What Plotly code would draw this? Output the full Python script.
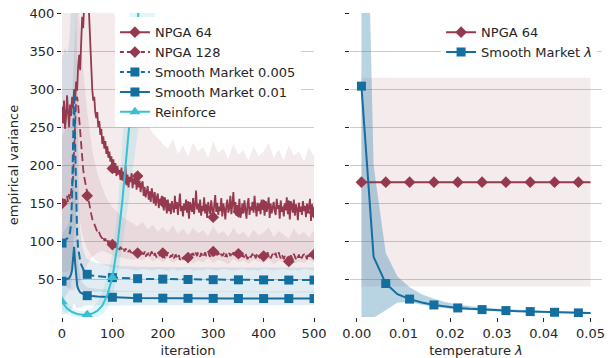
import plotly.graph_objects as go

MAROON = "#953a4e"
BLUE = "#146ea0"
CYAN = "#38c0d2"

# ---------------- left panel data ----------------
iters = list(range(0, 501, 2))
npga64 = [
    270, 255, 285, 248, 262, 292, 270, 250, 280, 265,
    290, 275, 300, 285, 310, 298, 330, 345, 325, 370,
    395, 380, 420, 440, 430, 415, 425, 390, 355, 320,
    300, 285, 290, 270, 262, 270, 250, 258, 240, 248,
    228, 238, 222, 232, 215, 225, 210, 218, 205, 212,
    196, 208, 190, 203, 186, 199, 188, 194, 181, 197,
    180, 192, 176, 199, 174, 188, 171, 185, 178, 190,
    170, 183, 175, 186, 168, 186, 171, 180, 165, 176,
    179, 160, 172, 158, 168, 173, 155, 166, 152, 170,
    162, 150, 165, 147, 158, 163, 144, 156, 149, 160,
    152, 141, 158, 145, 137, 155, 140, 150, 136, 153,
    146, 138, 160, 143, 152, 135, 149, 163, 140, 147,
    133, 150, 141, 155, 138, 146, 130, 152, 144, 139,
    157, 136, 148, 167, 142, 150, 138, 155, 134, 147,
    140, 158, 137, 149, 131, 152, 143, 136, 154, 141,
    132, 148, 161, 139, 151, 135, 146, 140, 157, 133,
    150, 143, 129, 147, 155, 138, 144, 160, 136, 149,
    165, 140, 152, 134, 148, 139, 156, 131, 145, 150,
    137, 154, 142, 130, 149, 157, 135, 146, 141, 152,
    138, 160, 144, 133, 151, 140, 147, 136, 155, 142,
    148, 134, 153, 139, 145, 158, 131, 150, 137, 144,
    152, 140, 135, 156, 143, 148, 130, 154, 139, 146,
    133, 150, 141, 158, 136, 147, 129, 153, 142, 138,
    155, 134, 149, 143, 128, 151, 139, 146, 135, 153,
    140, 147, 132, 150, 137, 144, 156, 127, 149, 141,
    138,
]
npga128 = [
    150, 156, 146, 158, 149, 160, 152, 162, 155, 166,
    170, 185, 220, 260, 285, 290, 280, 262, 245, 225,
    205, 195, 185, 178, 170, 160, 152, 145, 140, 136,
    130, 127, 122, 120, 117, 113, 115, 110, 108, 106,
    104, 107, 101, 104, 99, 102, 97, 101, 96, 99,
    96, 94, 98, 92, 95, 91, 94, 89, 93, 90,
    89, 92, 87, 91, 88, 90, 86, 89, 87, 85,
    88, 84, 87, 83, 86, 85, 82, 87, 84, 81,
    85, 83, 87, 80, 84, 82, 86, 81, 84, 87,
    83, 80, 85, 82, 79, 84, 86, 81, 83, 80,
    85, 82, 78, 84, 81, 86, 83, 79, 82, 80,
    84, 78, 81, 83, 77, 80, 82, 76, 79, 81,
    77, 80, 75, 78, 81, 79, 83, 80, 84, 82,
    85, 82, 87, 84, 81, 86, 83, 80, 85, 82,
    79, 83, 86, 81, 84, 87, 82, 80, 85, 83,
    87, 84, 81, 85, 82, 86, 83, 80, 84, 81,
    83, 86, 80, 84, 79, 82, 85, 81, 84, 80,
    86, 82, 85, 80, 83, 84, 81, 78, 83, 80,
    82, 79, 84, 81, 77, 80, 83, 79, 81, 84,
    80, 83, 78, 82, 85, 80, 79, 83, 77, 81,
    81, 84, 79, 82, 86, 80, 83, 78, 81, 84,
    80, 83, 85, 79, 82, 86, 81, 78, 83, 80,
    77, 81, 79, 76, 80, 74, 78, 82, 79, 76,
    84, 80, 77, 82, 79, 83, 76, 80, 78, 82,
    83, 79, 81, 77, 85, 80, 84, 78, 82, 80,
    83,
]

band_iters = list(range(0, 501, 10))
npga64_hi = [
    520, 560, 590, 640, 700, 720, 640, 560, 500, 450,
    410, 380, 350, 320, 300, 285, 268, 255, 242, 236,
    228, 222, 235, 215, 226, 212, 230, 218, 224, 210,
    232, 216, 222, 208, 228, 214, 220, 206, 225, 212,
    218, 230, 210, 221, 207, 226, 213, 219, 205, 224,
    211,
]
npga64_lo = [
    45, 40, 35, 40, 55, 70, 80, 85, 88, 85,
    82, 80, 78, 77, 76, 78, 75, 80, 74, 77,
    73, 78, 72, 76, 74, 79, 71, 75, 73, 78,
    72, 76, 74, 70, 77, 73, 75, 71, 76, 74,
    72, 77, 70, 75, 73, 78, 71, 74, 72, 76,
    73,
]
npga128_hi = [
    240, 250, 290, 430, 340, 270, 220, 190, 170, 155,
    145, 138, 132, 128, 124, 120, 126, 116, 122, 113,
    119, 112, 121, 110, 117, 108, 118, 111, 115, 107,
    120, 110, 114, 106, 118, 109, 113, 105, 116, 108,
    112, 119, 106, 114, 109, 104, 117, 108, 113, 105,
    115,
]
npga128_lo = [
    60, 60, 65, 150, 110, 90, 80, 74, 70, 68,
    66, 65, 64, 64, 63, 62, 64, 63, 62, 64,
    63, 62, 64, 62, 63, 64, 62, 63, 62, 64,
    63, 62, 64, 63, 62, 63, 64, 62, 63, 62,
    64, 63, 62, 63, 64, 62, 63, 62, 64, 63,
    62,
]

sm_iters = list(range(0, 50, 2)) + list(range(50, 501, 10))
sm005 = [
    98, 99, 100, 101, 102, 103, 105, 108, 112, 125,
    160, 230, 295, 230, 150, 110, 92, 82, 75, 70,
    66, 63, 61, 59.5, 58,
    57, 55.5, 54.5, 53.8, 53.2, 52.7, 52.3, 52.0, 51.7, 51.5,
    51.3, 51.1, 51.0, 50.9, 50.8, 50.7, 50.6, 50.5, 50.4, 50.3,
    50.2, 50.2, 50.1, 50.1, 50.0, 50.0, 49.9, 49.9, 49.9, 49.8,
    49.8, 49.8, 49.7, 49.7, 49.7, 49.7, 49.6, 49.6, 49.6, 49.6,
    49.5, 49.5, 49.5, 49.5, 49.5, 49.5,
]
sm005_hi = [
    340, 345, 350, 355, 350, 345, 350, 360, 380, 400,
    430, 470, 520, 480, 420, 330, 200, 140, 115, 102,
    94, 89, 85, 82, 79,
    77, 74, 72, 71, 70, 69, 68.5, 68, 67.5, 67,
    67, 67, 66.8, 66.8, 66.6, 66.6, 66.5, 66.5, 66.4, 66.4,
    66.3, 66.3, 66.2, 66.2, 66.1, 66.1, 66, 66, 66, 66,
    66, 66, 66, 66, 66, 66, 66, 66, 66, 66,
    66, 66, 66, 66, 66, 66,
]
sm005_lo = [
    20, 22, 25, 28, 30, 32, 34, 36, 38, 40,
    50, 80, 120, 90, 60, 45, 40, 38, 37, 36.5,
    36, 35.5, 35, 35, 34.5,
    34.5, 34.3, 34.1, 34, 34, 33.9, 33.8, 33.8, 33.7, 33.7,
    33.6, 33.6, 33.6, 33.6, 33.5, 33.5, 33.5, 33.5, 33.5, 33.5,
    33.4, 33.4, 33.4, 33.4, 33.4, 33.4, 33.4, 33.4, 33.4, 33.4,
    33.3, 33.3, 33.3, 33.3, 33.3, 33.3, 33.3, 33.3, 33.3, 33.3,
    33.3, 33.3, 33.3, 33.3, 33.3, 33.3,
]
sm01 = [
    48, 48.5, 49, 49.5, 50, 50.5, 51, 52, 54, 57,
    63, 76, 93, 72, 52, 43, 38, 35, 33.5, 32.5,
    31.5, 30.8, 30.2, 29.7, 29.3,
    29.0, 28.4, 27.9, 27.5, 27.2, 26.9, 26.7, 26.5, 26.3, 26.1,
    26.0, 25.9, 25.8, 25.8, 25.7, 25.7, 25.6, 25.6, 25.6, 25.5,
    25.5, 25.5, 25.5, 25.4, 25.4, 25.4, 25.4, 25.4, 25.3, 25.3,
    25.3, 25.3, 25.3, 25.3, 25.3, 25.2, 25.2, 25.2, 25.2, 25.2,
    25.2, 25.2, 25.2, 25.2, 25.2, 25.2,
]
sm01_hi = [
    110, 112, 114, 116, 118, 120, 122, 126, 132, 140,
    160, 190, 230, 180, 125, 92, 74, 62, 55, 50,
    47, 45, 43.5, 42, 41,
    40, 38.8, 37.8, 37, 36.4, 35.9, 35.5, 35.2, 35, 34.8,
    34.7, 34.6, 34.6, 34.5, 34.5, 34.5, 34.4, 34.4, 34.4, 34.4,
    34.3, 34.3, 34.3, 34.3, 34.3, 34.3, 34.3, 34.3, 34.3, 34.3,
    34.2, 34.2, 34.2, 34.2, 34.2, 34.2, 34.2, 34.2, 34.2, 34.2,
    34.2, 34.2, 34.2, 34.2, 34.2, 34.2,
]
sm01_lo = [
    5, 5, 5, 5, 6, 6, 7, 8, 9, 10,
    12, 15, 20, 16, 13, 12, 12.5, 13, 13.5, 14,
    14.5, 15, 15.3, 15.6, 16,
    16.2, 16.4, 16.5, 16.6, 16.7, 16.8, 16.8, 16.8, 16.8, 16.8,
    16.8, 16.8, 16.8, 16.8, 16.8, 16.8, 16.8, 16.8, 16.8, 16.8,
    16.8, 16.8, 16.8, 16.8, 16.8, 16.8, 16.8, 16.8, 16.8, 16.8,
    16.8, 16.8, 16.8, 16.8, 16.8, 16.8, 16.8, 16.8, 16.8, 16.8,
    16.8, 16.8, 16.8, 16.8, 16.8, 16.8,
]

rf_iters = list(range(0, 201, 10))
reinforce = [21, 12, 7.5, 5, 4, 4, 5.5, 9, 16, 30, 53, 95, 155, 225, 300, 385, 480, 580, 690, 800, 920]
reinforce_hi = [32, 20, 13, 10, 9, 10, 13, 20, 34, 55, 85, 140, 230, 330, 470, 620, 760, 880, 980, 1080, 1180]
reinforce_lo = [11, 5, 2, 0.5, 0, 0, 0, 1, 4, 12, 28, 55, 95, 140, 190, 240, 290, 340, 380, 420, 460]

# ---------------- right panel data ----------------
lam = [0.001, 0.0036, 0.0062, 0.0087, 0.0113, 0.0139, 0.0165, 0.0191, 0.0216, 0.0242,
       0.0268, 0.0294, 0.0319, 0.0345, 0.0371, 0.0397, 0.0423, 0.0448, 0.0474, 0.05]
lam_npga = [178, 178, 178, 178, 178, 178, 178, 178, 178, 178,
            178, 178, 178, 178, 178, 178, 178, 178, 178, 178]
lam_npga_hi = [315, 315, 315, 315, 315, 315, 315, 315, 315, 315,
               315, 315, 315, 315, 315, 315, 315, 315, 315, 315]
lam_npga_lo = [41, 41, 41, 41, 41, 41, 41, 41, 41, 41,
               41, 41, 41, 41, 41, 41, 41, 41, 41, 41]
lam_sm = [304, 80, 45, 31, 24.5, 20, 16.8, 14.5, 12.9, 11.7,
          10.7, 10, 9.4, 8.7, 8.1, 7.6, 7.2, 6.8, 6.4, 6.1]
lam_sm_hi = [900, 200, 85, 54, 40, 31, 25, 20.5, 17.5, 15.3,
             13.5, 12.2, 11.2, 10.3, 9.5, 8.9, 8.4, 7.9, 7.4, 7.1]
lam_sm_lo = [-300, 0, 10, 20, 20.5, 17, 14.5, 12.5, 11, 10,
             9.2, 8.6, 8, 7.5, 7, 6.5, 6.1, 5.8, 5.4, 5.1]

x_ticks_left = [0, 100, 200, 300, 400, 500]
x_ticks_right = [0, 0.01, 0.02, 0.03, 0.04, 0.05]
x_ticktext_right = ["0.00", "0.01", "0.02", "0.03", "0.04", "0.05"]
y_ticks = [50, 100, 150, 200, 250, 300, 350, 400]


def rgba(hex_color, a):
    h = hex_color.lstrip("#")
    r, g, b = int(h[0:2], 16), int(h[2:4], 16), int(h[4:6], 16)
    return f"rgba({r},{g},{b},{a})"


fig = go.Figure()


def band(x, hi, lo, color, alpha, xa, ya):
    fig.add_trace(go.Scatter(
        x=list(x) + list(x)[::-1], y=list(hi) + list(lo)[::-1],
        fill="toself", fillcolor=rgba(color, alpha), line=dict(width=0),
        mode="lines", hoverinfo="skip", showlegend=False, xaxis=xa, yaxis=ya))


def line(x, y, color, dash, xa, ya, width=2):
    fig.add_trace(go.Scatter(
        x=x, y=y, mode="lines", line=dict(color=color, width=width, dash=dash),
        showlegend=False, xaxis=xa, yaxis=ya))


def marks(x, y, color, symbol, size, xa, ya):
    fig.add_trace(go.Scatter(
        x=x, y=y, mode="markers", marker=dict(color=color, symbol=symbol, size=size, line=dict(width=0)),
        showlegend=False, xaxis=xa, yaxis=ya))


DASH = "8px,4px"

# bands (left)
band(band_iters, npga64_hi, npga64_lo, MAROON, 0.10, "x", "y")
band(band_iters, npga128_hi, npga128_lo, MAROON, 0.10, "x", "y")
band(sm_iters, sm005_hi, sm005_lo, BLUE, 0.12, "x", "y")
band(sm_iters, sm01_hi, sm01_lo, BLUE, 0.12, "x", "y")
band(rf_iters, reinforce_hi, reinforce_lo, CYAN, 0.15, "x", "y")
# bands (right)
band(lam, lam_npga_hi, lam_npga_lo, MAROON, 0.10, "x2", "y2")
band(lam, lam_sm_hi, lam_sm_lo, BLUE, 0.30, "x2", "y2")

# lines left
line(iters, npga64, MAROON, "solid", "x", "y", width=1.8)
marks(iters[::25], npga64[::25], MAROON, "diamond", 9, "x", "y")
line(iters, npga128, MAROON, DASH, "x", "y", width=1.8)
marks(iters[::25], npga128[::25], MAROON, "diamond", 9, "x", "y")

sm_mark_x = [x for x in sm_iters if x % 50 == 0]
line(sm_iters, sm005, BLUE, DASH, "x", "y")
marks(sm_mark_x, [v for x, v in zip(sm_iters, sm005) if x % 50 == 0], BLUE, "square", 9, "x", "y")
line(sm_iters, sm01, BLUE, "solid", "x", "y")
marks(sm_mark_x, [v for x, v in zip(sm_iters, sm01) if x % 50 == 0], BLUE, "square", 9, "x", "y")

line(rf_iters, reinforce, CYAN, "solid", "x", "y")
marks([x for x in rf_iters if x % 50 == 0], [v for x, v in zip(rf_iters, reinforce) if x % 50 == 0],
      CYAN, "triangle-up", 10, "x", "y")

# lines right
line(lam, lam_npga, MAROON, "solid", "x2", "y2")
marks(lam[::2], lam_npga[::2], MAROON, "diamond", 9, "x2", "y2")
line(lam, lam_sm, BLUE, "solid", "x2", "y2")
marks(lam[::2], lam_sm[::2], BLUE, "square", 9, "x2", "y2")


# legend proxies
def proxy(name, color, dash, symbol, size, xa, ya, legend):
    fig.add_trace(go.Scatter(
        x=[None], y=[None], mode="lines+markers", name=name,
        line=dict(color=color, width=2, dash=dash),
        marker=dict(color=color, symbol=symbol, size=size, line=dict(width=0)),
        xaxis=xa, yaxis=ya, legend=legend, showlegend=True))


proxy("NPGA 64", MAROON, "solid", "diamond", 9, "x", "y", "legend")
proxy("NPGA 128", MAROON, "4px,3px", "diamond", 9, "x", "y", "legend")
proxy("Smooth Market 0.005", BLUE, "4px,3px", "square", 9, "x", "y", "legend")
proxy("Smooth Market 0.01", BLUE, "solid", "square", 9, "x", "y", "legend")
proxy("Reinforce", CYAN, "solid", "triangle-up", 10, "x", "y", "legend")
proxy("NPGA 64", MAROON, "solid", "diamond", 9, "x2", "y2", "legend2")
proxy("Smooth Market <i>λ</i>", BLUE, "solid", "square", 9, "x2", "y2", "legend2")

TXT = "#262626"
common = dict(ticks="outside", ticklen=4, tickwidth=1, tickcolor=TXT, showline=False,
              zeroline=False, tickfont=dict(size=13, color=TXT), ticklabeloverflow="allow",
              automargin=False)

# the page body margin is removed (post_script), so the figure fills the 608x358 window
fig.update_layout(
    width=608, height=358,
    margin=dict(l=62, r=6, t=13, b=41, autoexpand=False),
    paper_bgcolor="white", plot_bgcolor="white",
    font=dict(family="DejaVu Sans", size=13, color=TXT),
    legend=dict(x=0.098, y=0.986, xanchor="left", yanchor="top", bgcolor="white",
                borderwidth=0, font=dict(size=13, color=TXT), itemwidth=30),
    legend2=dict(x=0.702, y=0.986, xanchor="left", yanchor="top", bgcolor="white",
                 borderwidth=0, font=dict(size=13, color=TXT), itemwidth=30),
    xaxis=dict(domain=[0, 0.4667], range=[0, 500], tickvals=x_ticks_left, showgrid=False,
               title=dict(text="iteration", standoff=6, font=dict(size=13)), anchor="y", **common),
    yaxis=dict(domain=[0, 1], range=[1, 400], tickvals=y_ticks, showgrid=True, gridcolor="#cccccc",
               gridwidth=1, title=dict(text="empirical variance", standoff=8, font=dict(size=13)),
               anchor="x", **common),
    xaxis2=dict(domain=[0.5333, 1], range=[-0.00145, 0.05245], tickvals=x_ticks_right,
                ticktext=x_ticktext_right, showgrid=False,
                title=dict(text="temperature <i>λ</i>", standoff=6, font=dict(size=13)),
                anchor="y2", **common),
    yaxis2=dict(domain=[0, 1], range=[1, 400], tickvals=y_ticks, showgrid=True, gridcolor="#cccccc",
                gridwidth=1, showticklabels=False, anchor="x2", matches="y", **common),
)

fig.write_html("out.html",
               config={"displayModeBar": False, "staticPlot": True},
               post_script="document.body.style.margin='0';document.body.style.padding='0';")
